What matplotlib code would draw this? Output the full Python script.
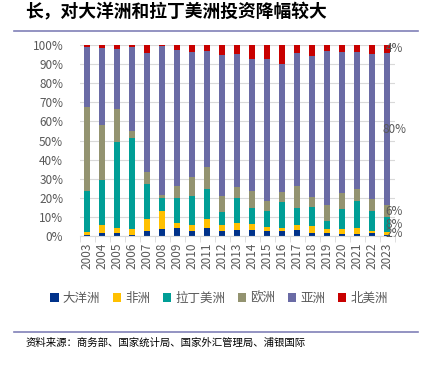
import numpy as np
import matplotlib
matplotlib.use('Agg')
import matplotlib.pyplot as plt
from matplotlib.lines import Line2D

plt.rcParams['font.family'] = ['Noto Sans CJK SC', 'DejaVu Sans']

# 数据（百分比，从图上读取）
years = [str(y) for y in range(2003, 2024)]
regions = ['大洋洲', '非洲', '拉丁美洲', '欧洲', '亚洲', '北美洲']
colors = ['#00328A', '#FFC000', '#009E96', '#939370', '#6A6BA5', '#C80000']

oceania = [0.5, 1.6, 1.4, 0.5, 2.8, 3.5, 4.4, 2.6, 4.4, 2.6, 3.3, 3.3, 2.4, 2.4, 3.0, 1.4, 1.6, 0.9, 0.9, 1.6, 0.3]
africa = [1.5, 4.3, 2.8, 3.2, 6.1, 9.8, 2.6, 3.2, 4.3, 3.0, 3.3, 2.8, 2.3, 1.6, 2.8, 3.8, 1.9, 2.6, 3.1, 1.2, 1.9]
latam = [21.6, 23.5, 45.1, 47.9, 18.5, 6.8, 12.9, 15.4, 16.0, 7.2, 13.3, 8.6, 8.6, 13.8, 8.9, 10.2, 4.5, 10.8, 14.4, 10.1, 7.8]
europe = [44.2, 28.6, 17.1, 3.6, 6.0, 1.4, 6.1, 9.9, 11.3, 8.0, 5.6, 8.7, 4.9, 5.5, 11.7, 4.9, 8.1, 8.4, 6.3, 6.3, 6.0]
asia = [31.3, 40.6, 31.5, 43.7, 62.4, 78.0, 71.4, 65.2, 60.9, 73.8, 70.1, 69.1, 74.5, 66.6, 69.6, 73.8, 80.8, 73.5, 71.6, 76.4, 80.0]
namerica = [0.9, 1.4, 2.1, 1.1, 4.2, 0.5, 2.6, 3.7, 3.1, 5.4, 4.4, 7.5, 7.3, 10.1, 4.0, 5.9, 3.1, 3.8, 3.7, 4.4, 4.0]

series = [oceania, africa, latam, europe, asia, namerica]

fig = plt.figure(figsize=(4.25, 3.67), dpi=100)
ax = fig.add_axes([0.188, 0.357, 0.741, 0.520])

x = np.arange(len(years))
bottom = np.zeros(len(years))
for name, vals, c in zip(regions, series, colors):
    vals = np.array(vals)
    ax.bar(x, vals, 0.4, bottom=bottom, color=c, label=name, zorder=2)
    # 只给2023年加数据标签
    if vals[-1] >= 1:
        ax.text(x[-1] + 0.45, bottom[-1] + vals[-1] / 2, '%.0f%%' % vals[-1],
                ha='center', va='center', fontsize=8.5, color='#595959', zorder=3)
    bottom += vals

ax.set_ylim(0, 100)
ax.set_xlim(-0.5, len(years) - 0.5)
ax.set_yticks(np.arange(0, 101, 10))
ax.set_yticklabels(['%d%%' % v for v in range(0, 101, 10)], fontsize=8.5, color='#595959')
ax.yaxis.grid(True, color='#D9D9D9', linewidth=0.8, zorder=0)
ax.tick_params(axis='y', length=0, pad=12)

ax.set_xticks(x)
ax.set_xticklabels(years, rotation=90, fontsize=8.5, color='#595959')
ax.set_xticks(np.arange(-0.5, len(years), 1), minor=True)
ax.tick_params(axis='x', which='major', length=0, pad=5)
ax.tick_params(axis='x', which='minor', length=4, color='#D9D9D9')

for s in ['top', 'right', 'left']:
    ax.spines[s].set_visible(False)
ax.spines['bottom'].set_color('#D9D9D9')

fig.legend(loc='center', bbox_to_anchor=(0.515, 0.188), ncol=6, frameon=False,
           fontsize=9, handlelength=0.7, handleheight=0.7, handletextpad=0.3,
           columnspacing=1.0, labelcolor='#595959')

fig.text(0.059, 0.967, '长，对大洋洲和拉丁美洲投资降幅较大', fontsize=12.8, fontweight='bold',
         ha='left', va='center', color='black')
fig.add_artist(Line2D([0.033, 0.983], [0.9155, 0.9155], color='#8080B8', linewidth=1.2))
fig.add_artist(Line2D([0.033, 0.983], [0.0954, 0.0954], color='#8080B8', linewidth=1.2))
fig.text(0.059, 0.065, '资料来源：商务部、国家统计局、国家外汇管理局、浦银国际', fontsize=7.5,
         ha='left', va='center', color='black')

plt.savefig('out.png', dpi=100)
